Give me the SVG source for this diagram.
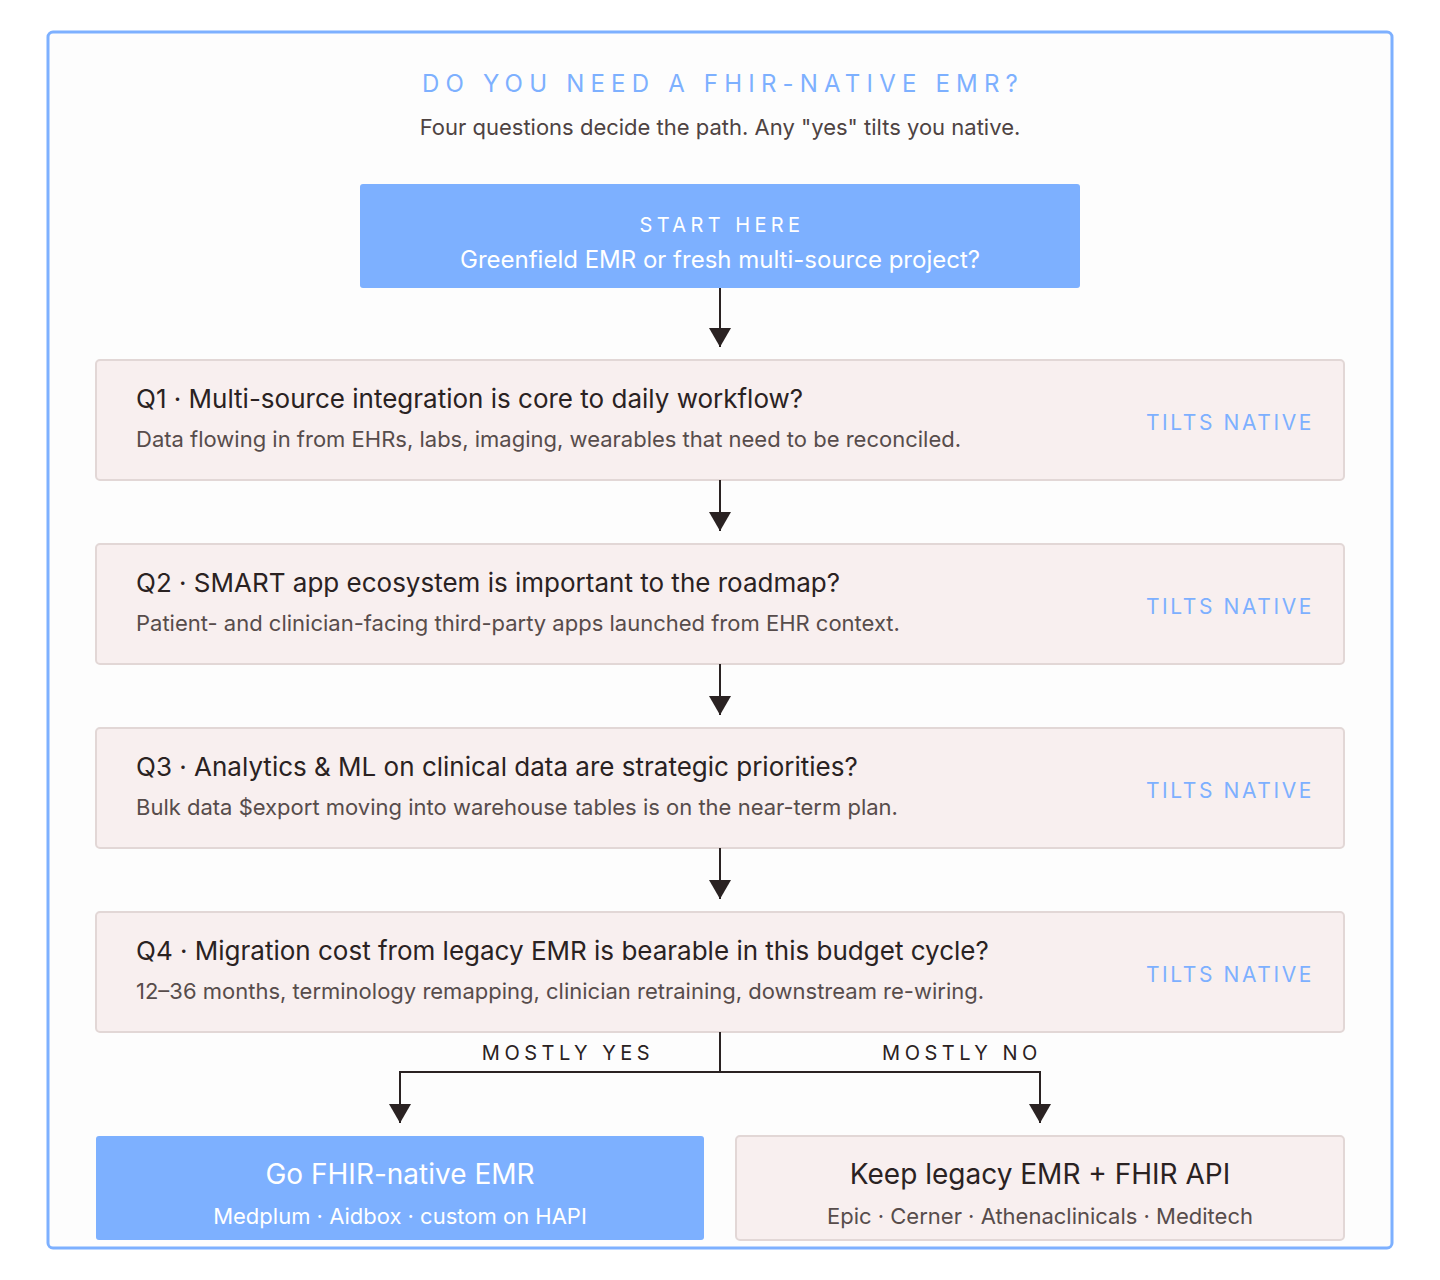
<svg xmlns="http://www.w3.org/2000/svg" width="1440" height="1280" viewBox="0 0 1440 1280">
<defs>
<style>
text{font-family:Inter,"Noto Sans","Liberation Sans",sans-serif}
.q{fill:#F8EFEF;stroke:#E2D7D6;stroke-width:2}
.blue{fill:#7DB0FF}
.qt{font-size:26px;fill:#2A2222}
.qs{font-size:22px;fill:#574C4B}
.tilt{font-size:21px;fill:#7DB0FF;letter-spacing:2.6px;text-anchor:end}
.conn{stroke:#2A2222;stroke-width:2;fill:none}
.lbl{font-size:20px;fill:#2A2222;letter-spacing:4.5px;text-anchor:middle}
</style>
<marker id="arr" viewBox="0 0 20 22" refX="19" refY="11" markerWidth="20" markerHeight="22" markerUnits="userSpaceOnUse" orient="auto">
<path d="M0,0 L19,11 L0,22 Z" fill="#2A2222"/>
</marker>
</defs>
<rect x="0" y="0" width="1440" height="1280" fill="#FFFFFF"/>
<rect x="48" y="32" width="1344" height="1216" rx="5" fill="#FDFDFD" stroke="#7DB0FF" stroke-width="3"/>
<g id="title">
<text x="723" y="92" font-size="24" fill="#7DB0FF" letter-spacing="6.2" text-anchor="middle">DO YOU NEED A FHIR-NATIVE EMR?</text>
<text x="720" y="135" font-size="22" fill="#4E4342" text-anchor="middle">Four questions decide the path. Any "yes" tilts you native.</text>
</g>
<g id="start">
<rect x="360" y="184" width="720" height="104" rx="3" class="blue"/>
<text x="722" y="232" font-size="20" fill="#FFFFFF" letter-spacing="4.4" text-anchor="middle">START HERE</text>
<text x="720" y="268" font-size="24" fill="#FFFFFF" text-anchor="middle">Greenfield EMR or fresh multi-source project?</text>
</g>
<g id="q1">
<rect x="96" y="360" width="1248" height="120" rx="4" class="q"/>
<text x="136" y="408" class="qt">Q1 · Multi-source integration is core to daily workflow?</text>
<text x="136" y="447" class="qs">Data flowing in from EHRs, labs, imaging, wearables that need to be reconciled.</text>
<text x="1314" y="430" class="tilt">TILTS NATIVE</text>
</g>
<g id="q2">
<rect x="96" y="544" width="1248" height="120" rx="4" class="q"/>
<text x="136" y="592" class="qt">Q2 · SMART app ecosystem is important to the roadmap?</text>
<text x="136" y="631" class="qs">Patient- and clinician-facing third-party apps launched from EHR context.</text>
<text x="1314" y="614" class="tilt">TILTS NATIVE</text>
</g>
<g id="q3">
<rect x="96" y="728" width="1248" height="120" rx="4" class="q"/>
<text x="136" y="776" class="qt">Q3 · Analytics &amp; ML on clinical data are strategic priorities?</text>
<text x="136" y="815" class="qs">Bulk data $export moving into warehouse tables is on the near-term plan.</text>
<text x="1314" y="798" class="tilt">TILTS NATIVE</text>
</g>
<g id="q4">
<rect x="96" y="912" width="1248" height="120" rx="4" class="q"/>
<text x="136" y="960" class="qt">Q4 · Migration cost from legacy EMR is bearable in this budget cycle?</text>
<text x="136" y="999" class="qs">12–36 months, terminology remapping, clinician retraining, downstream re-wiring.</text>
<text x="1314" y="982" class="tilt">TILTS NATIVE</text>
</g>
<g id="native">
<rect x="96" y="1136" width="608" height="104" rx="3" class="blue"/>
<text x="400" y="1184" font-size="28" fill="#FFFFFF" text-anchor="middle">Go FHIR-native EMR</text>
<text x="400" y="1224" font-size="22" fill="#FFFFFF" text-anchor="middle">Medplum · Aidbox · custom on HAPI</text>
</g>
<g id="legacy">
<rect x="736" y="1136" width="608" height="104" rx="4" class="q"/>
<text x="1040" y="1184" font-size="28" fill="#2A2222" text-anchor="middle">Keep legacy EMR + FHIR API</text>
<text x="1040" y="1224" font-size="22" fill="#574C4B" text-anchor="middle">Epic · Cerner · Athenaclinicals · Meditech</text>
</g>
<g id="connectors">
<path class="conn" d="M720,288 V347" marker-end="url(#arr)"/>
<path class="conn" d="M720,480 V531" marker-end="url(#arr)"/>
<path class="conn" d="M720,664 V715" marker-end="url(#arr)"/>
<path class="conn" d="M720,848 V899" marker-end="url(#arr)"/>
<path class="conn" d="M720,1032 V1072 H400 V1123" marker-end="url(#arr)"/>
<path class="conn" d="M720,1072 H1040 V1123" marker-end="url(#arr)"/>
<text x="568" y="1060" class="lbl">MOSTLY YES</text>
<text x="962" y="1060" class="lbl">MOSTLY NO</text>
</g>
</svg>
